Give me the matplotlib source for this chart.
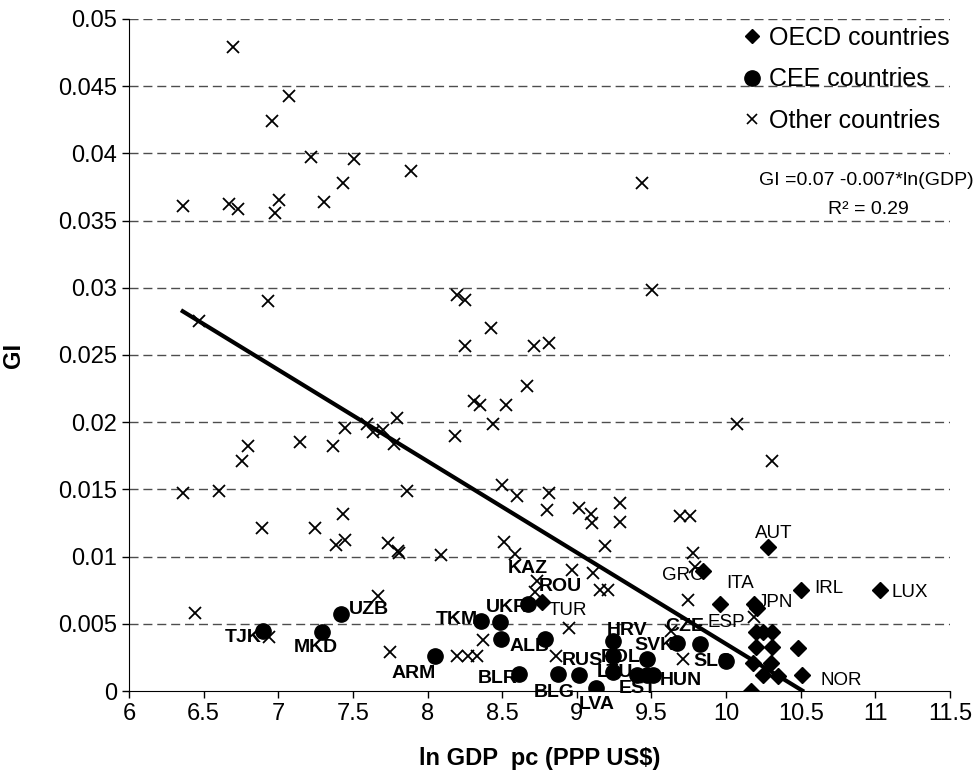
import matplotlib
matplotlib.use("Agg")
import matplotlib.pyplot as plt
from matplotlib.lines import Line2D

plt.rcParams['font.family'] = ['Liberation Sans', 'DejaVu Sans']

# OECD countries
oecd_x = [10.28, 9.847, 9.958, 10.19, 10.21, 10.50, 11.03, 8.765,
          10.20, 10.25, 10.31, 10.20, 10.31, 10.48, 10.18, 10.30,
          10.25, 10.35, 10.51, 10.17]
oecd_y = [0.0107, 0.0089, 0.0065, 0.0065, 0.0062, 0.0075, 0.0075, 0.0066,
          0.0044, 0.0044, 0.0044, 0.0033, 0.0033, 0.0032, 0.0021, 0.0021,
          0.0012, 0.0011, 0.0012, 0.0000]

# CEE countries
cee_x = [6.895, 7.29, 7.42, 8.05, 8.358, 8.485, 8.49, 8.675, 8.786, 8.614,
         8.871, 9.016, 9.13, 9.24, 9.244, 9.244, 9.467, 9.40, 9.467, 9.51,
         9.668, 9.824, 10.0]
cee_y = [0.0045, 0.0044, 0.0057, 0.0026, 0.0052, 0.0051, 0.0039, 0.0065, 0.0039, 0.0013,
         0.0013, 0.0012, 0.0002, 0.0037, 0.0026, 0.0014, 0.0024, 0.0012, 0.0012, 0.0012,
         0.0036, 0.0035, 0.0022]

# other countries
other_x = [6.695, 7.07, 6.956, 7.217, 7.51, 7.887, 7.433, 7.306, 7.007, 6.978,
           6.668, 6.732, 6.364, 6.933, 6.471, 7.793, 7.592, 7.636, 7.703, 7.775,
           7.447, 7.145, 7.368, 6.795, 6.757, 6.364, 6.605, 7.864, 7.435, 6.893,
           7.246, 7.387, 7.447, 7.737, 7.80, 7.81, 8.087, 8.199, 8.251, 9.505,
           8.425, 8.251, 8.715, 8.813, 8.664, 8.311, 8.351, 8.525, 8.436, 10.07,
           8.187, 8.50, 8.60, 8.813, 8.797, 9.014, 9.092, 9.103, 9.289, 9.289,
           9.69, 9.757, 8.514, 8.585, 9.188, 9.78, 9.44, 10.31, 9.746, 10.19,
           9.713, 9.79, 9.634, 6.44, 6.94, 7.67, 7.748, 8.195, 8.27, 8.33,
           8.373, 8.965, 9.11, 9.155, 9.21, 8.73, 8.72, 8.95, 8.86]
other_y = [0.0479, 0.0443, 0.0424, 0.0397, 0.0396, 0.0387, 0.0378, 0.0364, 0.0365, 0.0356,
           0.0362, 0.0359, 0.0361, 0.0290, 0.0275, 0.0203, 0.0199, 0.0193, 0.0194, 0.0184,
           0.0196, 0.0185, 0.0182, 0.0182, 0.0171, 0.0147, 0.0149, 0.0149, 0.0132, 0.0121,
           0.0121, 0.0109, 0.0112, 0.0110, 0.0104, 0.0103, 0.0101, 0.0295, 0.0291, 0.0298,
           0.0270, 0.0257, 0.0257, 0.0259, 0.0227, 0.0216, 0.0213, 0.0213, 0.0199, 0.0199,
           0.0190, 0.0153, 0.0145, 0.0147, 0.0135, 0.0136, 0.0132, 0.0125, 0.0140, 0.0126,
           0.0130, 0.0130, 0.0111, 0.0102, 0.0108, 0.0103, 0.0378, 0.0171, 0.0068, 0.0055,
           0.0024, 0.0092, 0.0045, 0.0058, 0.0040, 0.0071, 0.0029, 0.0026, 0.0026, 0.0026,
           0.0038, 0.0090, 0.0088, 0.0075, 0.0075, 0.0082, 0.0074, 0.0047, 0.0026]

# country labels: text, x, y
cee_labels = [("TJK", 6.767, 0.0040), ("MKD", 7.251, 0.0032), ("UZB", 7.609, 0.0061),
              ("ARM", 7.909, 0.0013), ("TKM", 8.195, 0.0053), ("UKR", 8.530, 0.0062),
              ("KAZ", 8.675, 0.0091), ("ROU", 8.887, 0.0078), ("ALB", 8.686, 0.0033),
              ("RUS", 9.038, 0.0023), ("BLR", 8.469, 0.0009), ("BLG", 8.847, -0.0001),
              ("LVA", 9.135, -0.0010), ("LTU", 9.256, 0.0014), ("POL", 9.293, 0.0025),
              ("EST", 9.41, 0.0002), ("HUN", 9.70, 0.0008), ("HRV", 9.334, 0.0045),
              ("SVK", 9.517, 0.0034), ("CZE", 9.725, 0.0048), ("SLO", 9.912, 0.0022)]
oecd_labels = [("AUT", 10.321, 0.0117), ("GRC", 9.711, 0.0086), ("ITA", 10.095, 0.0080),
               ("JPN", 10.333, 0.0066), ("IRL", 10.685, 0.0076), ("LUX", 11.232, 0.0073),
               ("ESP", 10.004, 0.0051), ("NOR", 10.77, 0.0008), ("TUR", 8.938, 0.0060)]

# trend line GI = a + b*ln(GDP)
fit_a = 0.0715
fit_b = -0.0068
fit_range = [6.36, 10.51]

fig = plt.figure(figsize=(9.8, 7.8), dpi=100)
ax = fig.add_axes([129 / 980, 89 / 780, 821 / 980, 672 / 780])

ax.set_xlim(6, 11.5)
ax.set_ylim(0, 0.05)
yt = [i * 0.005 for i in range(11)]
ax.set_yticks(yt)
ax.set_yticklabels(['0'] + ['%g' % round(v, 3) for v in yt[1:]])
xt = [6 + i * 0.5 for i in range(12)]
ax.set_xticks(xt)
ax.set_xticklabels(['%g' % v for v in xt])
ax.tick_params(labelsize=17, direction='out', length=5, width=1)

for v in yt[1:]:
    ax.axhline(v, color='0.3', lw=1, dashes=(6.5, 3.5), zorder=0)

ax.spines['top'].set_visible(False)
ax.spines['right'].set_visible(False)

# labels go under the markers
for t, x, y in cee_labels:
    ax.text(x, y, t, fontsize=14, fontweight='bold', ha='center', va='center',
            zorder=2, clip_on=False)
for t, x, y in oecd_labels:
    ax.text(x, y, t, fontsize=13.5, ha='center', va='center', zorder=2, clip_on=False)

ax.plot(other_x, other_y, 'x', color='black', ms=9, mew=1.3, zorder=3)
ax.plot(cee_x, cee_y, 'o', color='black', ms=11, zorder=4)
ax.plot(oecd_x, oecd_y, 'D', color='black', ms=8, zorder=4)

ax.plot(fit_range, [fit_a + fit_b * v for v in fit_range], color='black', lw=3, zorder=5)

ax.text(10.937, 0.0380, 'GI =0.07 -0.007*ln(GDP)', fontsize=14, ha='center', va='center')
ax.text(10.95, 0.0358, 'R² = 0.29', fontsize=14, ha='center', va='center')

handles = [Line2D([], [], ls='none', marker='D', color='black', ms=7),
           Line2D([], [], ls='none', marker='o', color='black', ms=11),
           Line2D([], [], ls='none', marker='x', color='black', ms=7, mew=1.2)]
ax.legend(handles, ['OECD countries', 'CEE countries', 'Other countries'],
          loc='upper right', bbox_to_anchor=(1.018, 1.012), frameon=False, fontsize=18,
          handlelength=0.8, handletextpad=0.3, labelspacing=0.7, borderaxespad=0.2)

ax.set_xlabel('ln GDP  pc (PPP US$)', fontsize=17, fontweight='bold', labelpad=16)
ax.set_ylabel('GI', fontsize=17, fontweight='bold', labelpad=24)

fig.savefig('out.png', dpi=100)
